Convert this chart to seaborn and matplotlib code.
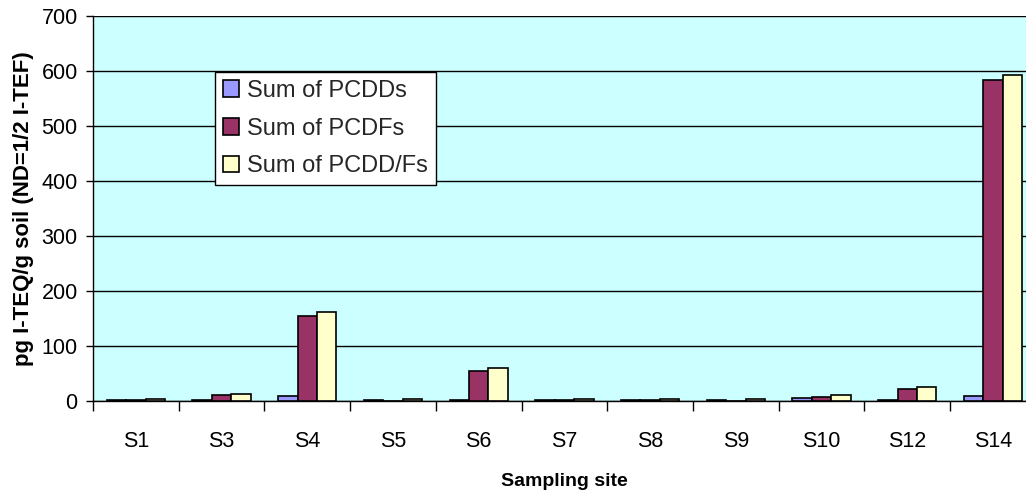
import matplotlib
matplotlib.use("Agg")
import matplotlib.pyplot as plt
import numpy as np
import pandas as pd
import seaborn as sns
from matplotlib.ticker import FixedLocator

sites = ["S1", "S3", "S4", "S5", "S6", "S7", "S8", "S9", "S10", "S12", "S14"]
pcdds = [1.0, 1.0, 9.0, 1.0, 1.0, 1.0, 1.0, 1.0, 5.0, 1.0, 9.0]
pcdfs = [1.0, 11.0, 155.0, 0.5, 55.0, 1.0, 1.0, 0.5, 7.0, 22.0, 583.0]
pcddfs = [4.0, 13.0, 162.0, 4.0, 60.0, 4.0, 4.0, 4.0, 11.0, 25.0, 593.0]
series_names = ["Sum of PCDDs", "Sum of PCDFs", "Sum of PCDD/Fs"]
colors = ["#9999FF", "#993366", "#FFFFCC"]

df = pd.DataFrame({
    "site": sites * 3,
    "value": pcdds + pcdfs + pcddfs,
    "series": [series_names[0]] * len(sites) + [series_names[1]] * len(sites)
              + [series_names[2]] * len(sites),
})

sns.set_theme(style="white")
plt.rcParams["font.family"] = ["Liberation Sans", "DejaVu Sans"]

fig = plt.figure(figsize=(10.26, 4.98), dpi=100)
# the plot area runs slightly past the right edge of the figure
ax = fig.add_axes([0.0906, 0.195, 0.919, 0.773])
ax.set_facecolor("#CCFFFF")

sns.barplot(data=df, x="site", y="value", hue="series", order=sites,
            hue_order=series_names, palette=colors, width=0.68,
            edgecolor="black", linewidth=1.2, saturation=1, ax=ax,
            errorbar=None, zorder=3)

ax.set_xlim(-0.5, len(sites) - 0.5)
ax.set_ylim(0, 700)
ax.set_yticks(np.arange(0, 701, 100))
ax.yaxis.grid(True, color="black", linewidth=1)
ax.set_axisbelow(True)

# category labels centred, tick marks between categories
ax.tick_params(axis="x", which="major", length=0, labelsize=15.5, pad=22,
               colors="black")
ax.xaxis.set_minor_locator(FixedLocator(np.arange(-0.5, len(sites), 1)))
ax.tick_params(axis="x", which="minor", length=7, width=1, color="black",
               direction="out", bottom=True)
ax.tick_params(axis="y", length=5, width=1, color="black", direction="out",
               left=True, labelsize=15.5, labelcolor="black", pad=6)

for side in ["top", "right"]:
    ax.spines[side].set_visible(False)
for side in ["left", "bottom"]:
    ax.spines[side].set_color("black")
    ax.spines[side].set_linewidth(1)

ax.set_xlabel("Sampling site", fontsize=14, fontweight="bold", labelpad=15,
              color="black")
ax.set_ylabel("pg I-TEQ/g soil (ND=1/2 I-TEF)", fontsize=16,
              fontweight="bold", labelpad=5, color="black")

leg = ax.legend(loc="upper left", bbox_to_anchor=(0.129, 0.855), fontsize=17,
                frameon=True, fancybox=False, edgecolor="black",
                framealpha=1, handlelength=0.68, handleheight=0.7,
                handletextpad=0.35, borderpad=0.35, labelspacing=0.66,
                borderaxespad=0)
leg.get_frame().set_linewidth(1)
leg.set_zorder(5)

fig.savefig("out.png", dpi=100)
